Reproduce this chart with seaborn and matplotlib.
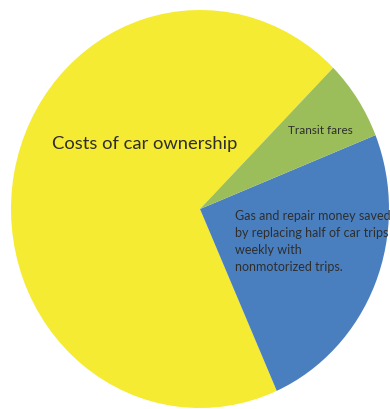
import matplotlib
matplotlib.use("Agg")
import matplotlib.pyplot as plt
import seaborn as sns

categories = ["Costs of car ownership",
              "Gas and repair money saved\nby replacing half of car trips\nweekly with\nnonmotorized trips.",
              "Transit fares"]
values = [69.1, 24.4, 6.5]
colors = ["#F5EB32", "#4A7FBF", "#9BBE5A"]

sns.set_theme(style="white")
plt.rcParams["font.family"] = ["Lato", "DejaVu Sans"]

W, H = 390, 409
fig = plt.figure(figsize=(W / 100, H / 100), dpi=100)
fig.patch.set_facecolor("white")
cx, cy, rx, ry = 200, 209, 189, 199
ax = fig.add_axes([(cx - rx) / W, 1 - (cy + ry) / H, 2 * rx / W, 2 * ry / H])
ax.pie(values, colors=colors, startangle=45.2, counterclock=True,
       wedgeprops=dict(linewidth=0, antialiased=True))
ax.set_aspect("auto")
ax.set_xlim(-1, 1)
ax.set_ylim(-1, 1)
ax.axis("off")

def px(x, y):
    return x / W, 1 - y / H

tc = "#2e2e2e"
fig.text(*px(52, 144), categories[0], ha="left", va="center", fontsize=13.2, color=tc)
fig.text(*px(288, 131), categories[2], ha="left", va="center", fontsize=8.5, color=tc)
fig.text(*px(235, 210), categories[1], ha="left", va="top", fontsize=9, color=tc,
         linespacing=1.5)

fig.savefig("out.png", dpi=100)
